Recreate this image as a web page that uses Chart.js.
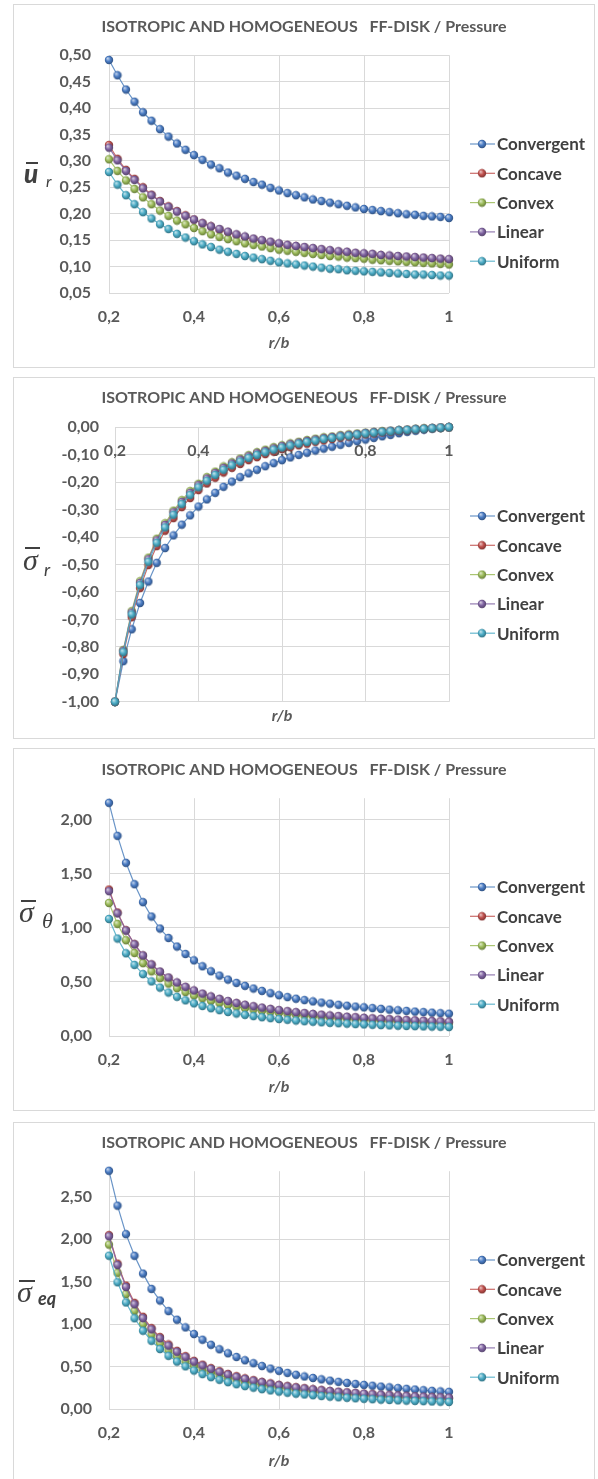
<!DOCTYPE html>
<html>
<head>
<meta charset="utf-8">
<script src="https://cdn.jsdelivr.net/npm/chart.js@4.4.0/dist/chart.umd.min.js"></script>
<style>
  body { margin: 0; background: #fff; width: 598px; height: 1479px; overflow: hidden; position: relative; }
  .panel { position: absolute; left: 13px; width: 582px; border: 1px solid #d9d9d9; box-sizing: border-box; background: #fff; }
  .panel canvas { display: block; }
</style>
</head>
<body>
<div class="panel" style="top:4px;height:364px"><canvas id="c1" width="580" height="362"></canvas></div>
<div class="panel" style="top:377px;height:362px"><canvas id="c2" width="580" height="360"></canvas></div>
<div class="panel" style="top:748px;height:363px"><canvas id="c3" width="580" height="361"></canvas></div>
<div class="panel" style="top:1122px;height:362px"><canvas id="c4" width="580" height="360"></canvas></div>
<script>
// r/b
const X_VALUES = [0.20, 0.22, 0.24, 0.26, 0.28, 0.30, 0.32, 0.34, 0.36, 0.38, 0.40, 0.42, 0.44, 0.46, 0.48, 0.50, 0.52, 0.54, 0.56, 0.58, 0.60,
    0.62, 0.64, 0.66, 0.68, 0.70, 0.72, 0.74, 0.76, 0.78, 0.80, 0.82, 0.84, 0.86, 0.88, 0.90, 0.92, 0.94, 0.96, 0.98, 1.00];

const SERIES = ["Convergent", "Concave", "Convex", "Linear", "Uniform"];
const TITLE = "ISOTROPIC AND HOMOGENEOUS   FF-DISK / Pressure";

// 1) u_r
const UR_CONVERGENT = [0.491, 0.462, 0.435, 0.412, 0.392, 0.376, 0.360, 0.346, 0.333, 0.321, 0.311, 0.302, 0.293, 0.286, 0.278, 0.272, 0.266, 0.260, 0.255, 0.249, 0.244,
    0.239, 0.235, 0.231, 0.227, 0.224, 0.221, 0.218, 0.215, 0.212, 0.209, 0.207, 0.205, 0.203, 0.201, 0.199, 0.198, 0.196, 0.195, 0.194, 0.192];
const UR_CONCAVE = [0.330, 0.304, 0.283, 0.266, 0.250, 0.236, 0.224, 0.214, 0.205, 0.197, 0.189, 0.182, 0.176, 0.170, 0.165, 0.160, 0.156, 0.152, 0.149, 0.146, 0.143,
    0.140, 0.138, 0.136, 0.134, 0.132, 0.130, 0.128, 0.127, 0.125, 0.124, 0.123, 0.121, 0.120, 0.119, 0.118, 0.117, 0.116, 0.115, 0.114, 0.113];
const UR_CONVEX = [0.303, 0.281, 0.263, 0.247, 0.231, 0.218, 0.206, 0.196, 0.187, 0.180, 0.173, 0.167, 0.161, 0.156, 0.152, 0.148, 0.144, 0.141, 0.138, 0.135, 0.132,
    0.130, 0.128, 0.126, 0.124, 0.122, 0.120, 0.119, 0.117, 0.116, 0.115, 0.113, 0.112, 0.111, 0.110, 0.109, 0.108, 0.107, 0.106, 0.105, 0.104];
const UR_LINEAR = [0.325, 0.301, 0.281, 0.264, 0.248, 0.235, 0.223, 0.213, 0.204, 0.196, 0.189, 0.182, 0.176, 0.171, 0.166, 0.161, 0.157, 0.153, 0.150, 0.147, 0.144,
    0.141, 0.139, 0.137, 0.135, 0.133, 0.131, 0.129, 0.128, 0.126, 0.125, 0.124, 0.122, 0.121, 0.120, 0.119, 0.118, 0.117, 0.116, 0.115, 0.114];
const UR_UNIFORM = [0.279, 0.255, 0.235, 0.218, 0.203, 0.191, 0.180, 0.171, 0.162, 0.155, 0.148, 0.142, 0.137, 0.132, 0.128, 0.124, 0.120, 0.117, 0.114, 0.111, 0.108,
    0.106, 0.104, 0.102, 0.100, 0.098, 0.096, 0.095, 0.093, 0.092, 0.091, 0.090, 0.089, 0.088, 0.087, 0.086, 0.085, 0.085, 0.084, 0.083, 0.083];

// 2) sigma_r
const SR_CONVERGENT = [-1.000, -0.852, -0.736, -0.640, -0.562, -0.494, -0.440, -0.394, -0.355, -0.321, -0.289, -0.263, -0.239, -0.217, -0.198, -0.182, -0.168, -0.155, -0.142, -0.131, -0.120,
    -0.110, -0.101, -0.093, -0.085, -0.078, -0.071, -0.064, -0.057, -0.051, -0.045, -0.039, -0.033, -0.028, -0.022, -0.017, -0.013, -0.009, -0.005, -0.002, 0.000];
const SR_CONCAVE = [-1.000, -0.826, -0.692, -0.586, -0.502, -0.433, -0.377, -0.331, -0.291, -0.258, -0.229, -0.205, -0.184, -0.165, -0.148, -0.134, -0.120, -0.109, -0.098, -0.089, -0.080,
    -0.073, -0.066, -0.060, -0.053, -0.048, -0.043, -0.038, -0.034, -0.030, -0.026, -0.023, -0.019, -0.016, -0.014, -0.011, -0.008, -0.006, -0.004, -0.002, 0.000];
const SR_CONVEX = [-1.000, -0.811, -0.670, -0.561, -0.475, -0.406, -0.350, -0.304, -0.266, -0.233, -0.206, -0.182, -0.162, -0.143, -0.128, -0.114, -0.102, -0.091, -0.082, -0.073, -0.066,
    -0.059, -0.053, -0.047, -0.042, -0.037, -0.034, -0.029, -0.026, -0.023, -0.020, -0.017, -0.014, -0.013, -0.010, -0.009, -0.006, -0.004, -0.003, -0.002, 0.000];
const SR_LINEAR = [-1.000, -0.814, -0.675, -0.567, -0.481, -0.412, -0.356, -0.310, -0.272, -0.239, -0.211, -0.187, -0.167, -0.148, -0.132, -0.118, -0.106, -0.095, -0.086, -0.077, -0.069,
    -0.062, -0.056, -0.050, -0.045, -0.040, -0.036, -0.031, -0.028, -0.025, -0.021, -0.018, -0.016, -0.013, -0.011, -0.009, -0.007, -0.005, -0.003, -0.002, 0.000];
const SR_UNIFORM = [-1.000, -0.819, -0.682, -0.575, -0.490, -0.421, -0.365, -0.319, -0.280, -0.247, -0.219, -0.195, -0.174, -0.155, -0.139, -0.125, -0.112, -0.101, -0.091, -0.082, -0.074,
    -0.067, -0.060, -0.054, -0.049, -0.043, -0.039, -0.034, -0.031, -0.027, -0.023, -0.020, -0.017, -0.015, -0.012, -0.010, -0.008, -0.006, -0.004, -0.002, 0.000];

// 3) sigma_theta
const ST_CONVERGENT = [2.157, 1.852, 1.602, 1.404, 1.238, 1.105, 0.994, 0.907, 0.828, 0.759, 0.700, 0.645, 0.599, 0.559, 0.522, 0.491, 0.464, 0.439, 0.417, 0.396, 0.377,
    0.360, 0.345, 0.332, 0.320, 0.309, 0.299, 0.289, 0.280, 0.272, 0.265, 0.258, 0.251, 0.244, 0.238, 0.232, 0.226, 0.221, 0.216, 0.211, 0.206];
const ST_CONCAVE = [1.355, 1.142, 0.978, 0.849, 0.744, 0.660, 0.593, 0.538, 0.491, 0.451, 0.417, 0.388, 0.362, 0.339, 0.319, 0.301, 0.285, 0.271, 0.258, 0.246, 0.235,
    0.225, 0.216, 0.208, 0.200, 0.193, 0.186, 0.180, 0.175, 0.170, 0.165, 0.160, 0.156, 0.152, 0.148, 0.144, 0.141, 0.138, 0.135, 0.132, 0.129];
const ST_CONVEX = [1.231, 1.037, 0.886, 0.768, 0.674, 0.598, 0.536, 0.485, 0.442, 0.406, 0.375, 0.348, 0.325, 0.305, 0.287, 0.271, 0.257, 0.244, 0.233, 0.222, 0.213,
    0.204, 0.196, 0.189, 0.182, 0.176, 0.170, 0.165, 0.160, 0.155, 0.151, 0.147, 0.143, 0.139, 0.136, 0.133, 0.130, 0.127, 0.124, 0.122, 0.119];
const ST_LINEAR = [1.340, 1.135, 0.975, 0.848, 0.745, 0.662, 0.596, 0.541, 0.495, 0.455, 0.421, 0.392, 0.366, 0.343, 0.323, 0.305, 0.289, 0.275, 0.262, 0.250, 0.239,
    0.229, 0.220, 0.212, 0.204, 0.197, 0.190, 0.184, 0.178, 0.173, 0.168, 0.163, 0.159, 0.155, 0.151, 0.147, 0.144, 0.141, 0.138, 0.135, 0.132];
const ST_UNIFORM = [1.083, 0.902, 0.765, 0.658, 0.573, 0.505, 0.448, 0.402, 0.363, 0.330, 0.302, 0.278, 0.257, 0.239, 0.222, 0.208, 0.196, 0.184, 0.174, 0.165, 0.157,
    0.150, 0.143, 0.137, 0.132, 0.127, 0.122, 0.118, 0.114, 0.110, 0.107, 0.104, 0.101, 0.098, 0.095, 0.093, 0.091, 0.089, 0.087, 0.085, 0.083];

// 4) sigma_eq
const SE_CONVERGENT = [2.805, 2.394, 2.059, 1.804, 1.594, 1.414, 1.277, 1.153, 1.051, 0.961, 0.883, 0.816, 0.756, 0.703, 0.656, 0.613, 0.574, 0.539, 0.506, 0.476, 0.449,
    0.425, 0.403, 0.383, 0.365, 0.349, 0.334, 0.320, 0.307, 0.295, 0.284, 0.274, 0.264, 0.255, 0.246, 0.237, 0.229, 0.221, 0.214, 0.207, 0.202];
const SE_CONCAVE = [2.047, 1.712, 1.453, 1.250, 1.086, 0.953, 0.847, 0.760, 0.685, 0.622, 0.567, 0.522, 0.481, 0.445, 0.413, 0.386, 0.360, 0.339, 0.319, 0.301, 0.284,
    0.269, 0.256, 0.244, 0.231, 0.221, 0.211, 0.202, 0.194, 0.187, 0.179, 0.173, 0.166, 0.161, 0.156, 0.150, 0.145, 0.141, 0.137, 0.133, 0.129];
const SE_CONVEX = [1.936, 1.604, 1.352, 1.156, 1.000, 0.875, 0.773, 0.689, 0.620, 0.560, 0.510, 0.466, 0.430, 0.396, 0.368, 0.343, 0.320, 0.300, 0.283, 0.266, 0.253,
    0.239, 0.227, 0.216, 0.206, 0.197, 0.190, 0.181, 0.175, 0.168, 0.162, 0.156, 0.150, 0.146, 0.141, 0.138, 0.133, 0.129, 0.126, 0.123, 0.119];
const SE_LINEAR = [2.034, 1.696, 1.437, 1.233, 1.070, 0.938, 0.833, 0.746, 0.674, 0.611, 0.557, 0.512, 0.472, 0.436, 0.405, 0.378, 0.354, 0.333, 0.314, 0.296, 0.280,
    0.265, 0.253, 0.241, 0.230, 0.220, 0.210, 0.202, 0.194, 0.187, 0.179, 0.173, 0.168, 0.162, 0.157, 0.152, 0.147, 0.144, 0.139, 0.136, 0.132];
const SE_UNIFORM = [1.805, 1.492, 1.254, 1.068, 0.922, 0.803, 0.706, 0.626, 0.558, 0.502, 0.453, 0.411, 0.375, 0.344, 0.316, 0.292, 0.270, 0.251, 0.234, 0.219, 0.205,
    0.192, 0.181, 0.171, 0.162, 0.153, 0.145, 0.138, 0.132, 0.126, 0.120, 0.115, 0.110, 0.106, 0.102, 0.098, 0.095, 0.092, 0.089, 0.086, 0.083];

const FONT = "Lato, 'Open Sans', sans-serif";
const BASE_COLORS = ["#4a7cc4", "#c0504d", "#9bbb59", "#8064a2", "#4bacc6"];
const LINE_COLORS = ["rgba(79,129,189,0.85)", "rgba(192,80,77,0.85)", "rgba(155,187,89,0.85)", "rgba(128,100,162,0.85)", "rgba(75,172,198,0.85)"];

// mix a hex colour toward white (f>0) or black (f<0)
function shade(hex, f) {
    const n = parseInt(hex.slice(1), 16);
    const t = f < 0 ? 0 : 255, p = Math.abs(f);
    const r = Math.round(((n >> 16) & 255) + (t - ((n >> 16) & 255)) * p);
    const g = Math.round(((n >> 8) & 255) + (t - ((n >> 8) & 255)) * p);
    const b = Math.round((n & 255) + (t - (n & 255)) * p);
    return `rgb(${r},${g},${b})`;
}

// excel style glossy marker
function makeBall(color) {
    const c = document.createElement("canvas");
    c.width = 10; c.height = 10;
    const x = c.getContext("2d");
    const g = x.createRadialGradient(3.6, 3.3, 0.3, 5, 5, 5.1);
    g.addColorStop(0, shade(color, 0.65));
    g.addColorStop(0.45, color);
    g.addColorStop(1, shade(color, -0.45));
    x.fillStyle = g;
    x.beginPath();
    x.arc(5, 5, 4.2, 0, Math.PI * 2);
    x.fill();
    return c;
}
const BALLS = BASE_COLORS.map(makeBall);

function buildDatasets(values) {
    return SERIES.map((name, i) => ({
        label: name,
        data: X_VALUES.map((x, j) => ({ x, y: values[i][j] })),
        borderColor: LINE_COLORS[i],
        borderWidth: 1.2,
        pointStyle: BALLS[i],
        pointRadius: 4,
        pointHoverRadius: 4,
        order: SERIES.length - 1 - i, // uniform on top like excel
        tension: 0,
        fill: false,
        clip: false,
    }));
}

// legend on the right: line + ball + name
function sideLegend(top) {
    return {
        id: "sideLegend",
        afterDraw(chart) {
            const ctx = chart.ctx;
            ctx.save();
            ctx.font = `bold 17px ${FONT}`;
            ctx.textBaseline = "middle";
            ctx.textAlign = "left";
            SERIES.forEach((name, i) => {
                const y = top + i * 29.3;
                ctx.strokeStyle = LINE_COLORS[i];
                ctx.lineWidth = 1.2;
                ctx.beginPath();
                ctx.moveTo(456, y);
                ctx.lineTo(481, y);
                ctx.stroke();
                ctx.drawImage(BALLS[i], 468 - 5, y - 5);
                ctx.fillStyle = "#404040";
                ctx.fillText(name, 483, y + 1);
            });
            ctx.restore();
        },
    };
}

// y axis symbol with overline and subscript
function axisSymbol(s) {
    return {
        id: "axisSymbol",
        afterDraw(chart) {
            const ctx = chart.ctx;
            ctx.save();
            ctx.fillStyle = "#404040";
            ctx.textAlign = "left";
            ctx.textBaseline = "alphabetic";
            ctx.font = s.mainFont;
            ctx.fillText(s.main, s.x, s.y);
            ctx.fillRect(s.barX, s.barY, s.barW, 2);
            ctx.font = s.subFont;
            ctx.fillText(s.sub, s.subX, s.subY);
            ctx.restore();
        },
    };
}

function makeChart(id, p) {
    const tickFont = { family: FONT, size: 16, weight: "bold" };
    const onStep = (v) => Math.abs(v / p.step - Math.round(v / p.step)) < 1e-6;
    const xScale = {
        type: "linear",
        min: 0.2,
        max: 1,
        position: p.xAtZero ? { y: 0 } : "bottom",
        ticks: {
            stepSize: 0.2,
            color: "#595959",
            font: tickFont,
            padding: 14,
            maxRotation: 0,
            callback: (v) => (Math.abs(v - 1) < 1e-9 ? "1" : v.toFixed(1).replace(".", ",")),
        },
        grid: { color: "#d9d9d9", drawTicks: false },
        border: { display: false },
        title: {
            display: !p.xAtZero,
            text: "r/b",
            color: "#595959",
            font: { family: FONT, size: 16, weight: "bold", style: "italic" },
            padding: { top: 0, bottom: p.xTitlePad },
        },
    };
    if (!p.xAtZero) xScale.afterFit = (s) => { s.height = p.xAxisH; };

    new Chart(document.getElementById(id), {
        type: "line",
        data: { datasets: buildDatasets(p.values) },
        options: {
            responsive: false,
            animation: false,
            devicePixelRatio: 1,
            layout: { padding: 0 },
            plugins: {
                legend: { display: false },
                tooltip: { enabled: false },
                title: {
                    display: true,
                    text: TITLE,
                    color: "#595959",
                    font: { family: FONT, size: 16, weight: "bold" },
                    padding: { top: p.titleTop, bottom: p.titleBottom },
                },
                subtitle: {
                    display: !!p.xAtZero,
                    position: "bottom",
                    fullSize: false,
                    text: "r/b",
                    color: "#595959",
                    font: { family: FONT, size: 16, weight: "bold", style: "italic" },
                    padding: { top: 4, bottom: 13 },
                },
            },
            scales: {
                x: xScale,
                y: {
                    type: "linear",
                    min: p.min,
                    max: p.max,
                    afterBuildTicks: (s) => { s.ticks = s.ticks.filter((t) => onStep(t.value)); },
                    afterFit: (s) => { s.width = p.left; },
                    ticks: {
                        stepSize: p.step,
                        color: "#595959",
                        font: tickFont,
                        padding: p.yPad,
                        callback: (v) => v.toFixed(2).replace(".", ","),
                    },
                    grid: { color: "#d9d9d9", drawTicks: false },
                    border: { display: false },
                },
                // empty right axis that keeps room for the legend
                legendSpace: {
                    type: "linear",
                    position: "right",
                    min: 0,
                    max: 1,
                    ticks: { display: false },
                    grid: { display: false },
                    border: { display: false },
                    afterFit: (s) => { s.width = 145; },
                },
            },
        },
        plugins: [sideLegend(p.legendTop), axisSymbol(p.symbol)],
    });
}

makeChart("c1", {
    values: [UR_CONVERGENT, UR_CONCAVE, UR_CONVEX, UR_LINEAR, UR_UNIFORM],
    min: 0.05, max: 0.5, step: 0.05,
    left: 95, yPad: 18, titleTop: 12, titleBottom: 19, xAxisH: 74, xTitlePad: 15, legendTop: 139,
    symbol: { main: "u", mainFont: `italic 900 26px ${FONT}`, x: 10, y: 178, barX: 12, barY: 157, barW: 12,
        sub: "r", subFont: `italic 16px ${FONT}`, subX: 32, subY: 182 },
});

makeChart("c2", {
    values: [SR_CONVERGENT, SR_CONCAVE, SR_CONVEX, SR_LINEAR, SR_UNIFORM],
    min: -1, max: 0, step: 0.1, xAtZero: true,
    left: 101, yPad: 16, titleTop: 10, titleBottom: 20, legendTop: 138,
    symbol: { main: "σ", mainFont: `italic 30px 'Liberation Serif', serif`, x: 9, y: 192, barX: 11, barY: 169, barW: 15,
        sub: "r", subFont: `italic 18px ${FONT}`, subX: 30, subY: 198 },
});

makeChart("c3", {
    values: [ST_CONVERGENT, ST_CONCAVE, ST_CONVEX, ST_LINEAR, ST_UNIFORM],
    min: 0, max: 2.2, step: 0.5,
    left: 95, yPad: 17, titleTop: 11, titleBottom: 19, xAxisH: 74, xTitlePad: 14, legendTop: 138,
    symbol: { main: "σ", mainFont: `italic 30px 'Liberation Serif', serif`, x: 5, y: 173, barX: 7, barY: 151, barW: 15,
        sub: "θ", subFont: `italic 22px 'Liberation Serif', serif`, subX: 28, subY: 179 },
});

makeChart("c4", {
    values: [SE_CONVERGENT, SE_CONCAVE, SE_CONVEX, SE_LINEAR, SE_UNIFORM],
    min: 0, max: 2.8, step: 0.5,
    left: 95, yPad: 17, titleTop: 10, titleBottom: 19, xAxisH: 74, xTitlePad: 13, legendTop: 137,
    symbol: { main: "σ", mainFont: `italic 30px 'Liberation Serif', serif`, x: 3, y: 179, barX: 5, barY: 157, barW: 16,
        sub: "eq", subFont: `italic bold 18px ${FONT}`, subX: 24, subY: 182 },
});
</script>
</body>
</html>
